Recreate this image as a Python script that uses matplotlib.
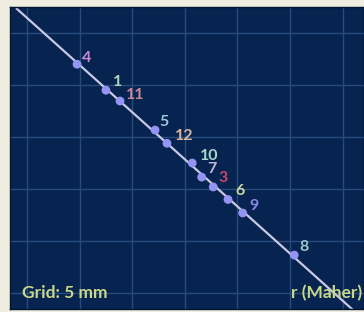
import matplotlib
matplotlib.use("Agg")
import matplotlib.pyplot as plt

# Data (mm)
labels = ["4", "1", "11", "5", "12", "10", "7", "3", "6", "9", "8"]
x_vals = [4.75, 7.5, 8.84, 12.17, 13.3, 15.7, 16.6, 17.7, 19.1, 20.5, 25.4]
y_vals = [22.0, 19.5, 18.46, 15.67, 14.4, 12.5, 11.15, 10.2, 9.0, 7.7, 3.65]
label_colors = ["#c78ad8", "#a8d8c0", "#c88898", "#98c8d8", "#d8b8a0", "#a8d8c8",
                "#c0b8d8", "#c84868", "#c8d8a0", "#8888e8", "#98c8c8"]
label_dx_px = [5, 7, 6, 4, 8, 8, 6, 5, 7, 7, 5]
label_dy_px = [2, 4, 2, 4, 3, 3, 4, 5, 4, 3, 4]
line_x = [-1.05, 31.1]
line_y = [27.4, -1.73]
grid_x = [0, 5, 10, 15, 20, 25, 30]
grid_y = [0, 5, 10, 15, 20, 25]

plt.rcParams['font.family'] = ['Lato', 'DejaVu Sans']

fig = plt.figure(figsize=(3.64, 3.12), dpi=100, facecolor="#eeede0")
ax = fig.add_axes([10/364, 3/312, 354/364, 302/312])
ax.set_facecolor("#06244f")
ax.set_xlim(-1.62, 32.03)
ax.set_ylim(-1.53, 27.5)
for gx in grid_x:
    ax.axvline(gx, color="#284b7e", lw=1.0, zorder=1)
for gy in grid_y:
    ax.axhline(gy, color="#284b7e", lw=1.0, zorder=1)
ax.plot(line_x, line_y, color="#c8c8e4", lw=1.6, zorder=2, solid_capstyle="butt")
ax.scatter(x_vals, y_vals, s=40, color="#9494f4", edgecolors="none", zorder=3)
for xv, yv, lab, c, dx, dy in zip(x_vals, y_vals, labels, label_colors, label_dx_px, label_dy_px):
    ax.annotate(lab, (xv, yv), xytext=(dx * 0.72, dy * 0.72), textcoords="offset points",
                color=c, fontsize=11.5, fontweight="bold", ha="left", va="baseline", zorder=4)
ax.text(12/354, (309-293.5)/302, "Grid: 5 mm", transform=ax.transAxes, color="#c8d888",
        fontsize=12.5, fontweight="bold", ha="left", va="center", zorder=5)
ax.text(352/354, (309-293.5)/302, "r (Maher)", transform=ax.transAxes, color="#c8d888",
        fontsize=12.5, fontweight="bold", ha="right", va="center", zorder=5)
ax.set_xticks([])
ax.set_yticks([])
for s in ax.spines.values():
    s.set_color("#02142e")
    s.set_linewidth(1.0)
fig.savefig("out.png", dpi=100, facecolor=fig.get_facecolor())
